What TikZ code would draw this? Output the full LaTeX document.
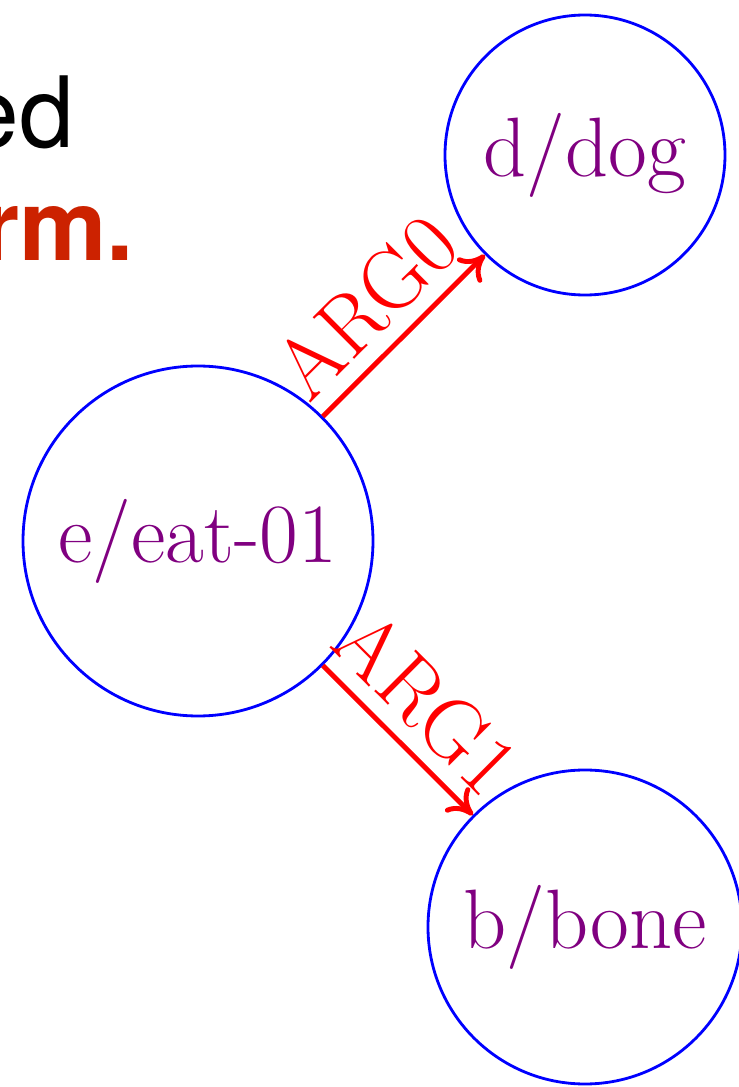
\documentclass[tikz,border=0pt]{standalone}
\usepackage{fontspec}
\newfontfamily\slidefont{TeX Gyre Heros}
\usepackage{tikz}
\usetikzlibrary{positioning,arrows.meta,calc}

\definecolor{nodeblue}{RGB}{0,0,255}
\definecolor{conceptpurple}{RGB}{128,0,128}
\definecolor{slidered}{RGB}{204,34,0}

\begin{document}
\begin{tikzpicture}[
    concept/.style={draw=nodeblue, circle, line width=0.8pt, inner sep=0pt, text=conceptpurple, font=\fontsize{24}{29}\selectfont},
    role/.style={-{To[length=2.4mm,width=3.4mm]}, red, line width=1.4pt},
    rolelabel/.style={sloped, above, pos=0.47, inner sep=4pt, text=red, font=\fontsize{24.5}{29}\selectfont},
    slidetext/.style={inner sep=0pt, anchor=base east, font=\slidefont\fontsize{28}{34}\selectfont}
]
\useasboundingbox (0,0) rectangle (7.39,10.87);

% left-over slide text
\node[slidetext] (txtA) at (0.75,9.40) {ed};
\node[slidetext, text=slidered, font=\slidefont\bfseries\fontsize{28}{34}\selectfont] (txtB) at (1.35,8.27) {rm.};

% concepts
\node[concept, minimum size=3.5cm] (e) at (1.98,5.46) {e/eat-01};
\node[concept, minimum size=2.8cm] (d) at (5.85,9.32) {d/dog};
\node[concept, minimum size=3.14cm] (b) at (5.85,1.60) {b/bone};

% roles
\draw[role] (e) -- node[rolelabel] {ARG0} (d);
\draw[role] (e) -- node[rolelabel] {ARG1} (b);
\end{tikzpicture}
\end{document}
